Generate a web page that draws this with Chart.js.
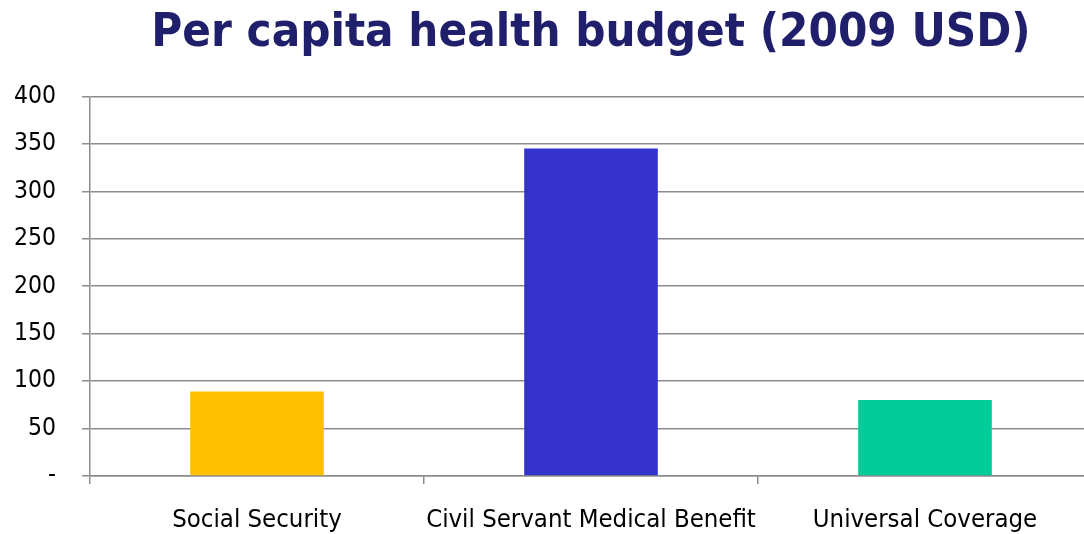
<!DOCTYPE html>
<html>
<head>
<meta charset="utf-8">
<script src="https://cdn.jsdelivr.net/npm/chart.js@4"></script>
<style>
  html, body { margin: 0; padding: 0; overflow: hidden; background: #fff; }
  #wrap { width: 1100px; height: 534px; }
</style>
</head>
<body>
<div id="wrap"><canvas id="budget-chart" width="1100" height="534"></canvas></div>
<script>
// values
const categories = ['Social Security', 'Civil Servant Medical Benefit', 'Universal Coverage'];
const budgetValues = [89, 345, 80];
const barColors = ['#FFC000', '#3333CC', '#00CC99'];
const yTicks = [0, 50, 100, 150, 200, 250, 300, 350, 400];

const gridColor = '#8c8c8c';

const ctx = document.querySelector('#budget-chart').getContext('2d');
const chart = new Chart(ctx, {
    type: 'bar',
    data: {
        labels: categories,
        datasets: [{
            label: 'Per capita health budget',
            data: budgetValues,
            backgroundColor: barColors,
            borderWidth: 0,
            barPercentage: 0.4,
            categoryPercentage: 1
        }]
    },
    options: {
        responsive: false,
        animation: false,
        layout: { padding: { left: 0, right: 8, top: 0, bottom: 0 } },
        plugins: {
            legend: { display: false },
            tooltip: { enabled: false },
            title: {
                display: true,
                fullSize: false,
                text: 'Per capita health budget (2009 USD)',
                color: '#1F1F6B',
                font: { family: 'DejaVu Sans Condensed', weight: 'bold', size: 47, lineHeight: 1.2 },
                padding: { top: 6, bottom: 34 }
            }
        },
        scales: {
            x: {
                grid: {
                    display: true,
                    drawOnChartArea: false,
                    drawTicks: true,
                    tickLength: 8,
                    color: gridColor,
                    lineWidth: 1.5
                },
                border: { display: true, color: gridColor, width: 1.5 },
                ticks: {
                    color: '#000',
                    padding: 21,
                    maxRotation: 0,
                    minRotation: 0,
                    autoSkip: false,
                    font: { family: 'DejaVu Sans Condensed', size: 25.5 }
                },
                afterFit(scale) { scale.height = 58; }
            },
            y: {
                min: 0,
                max: 400,
                afterBuildTicks(scale) {
                    scale.ticks = yTicks.map(v => ({ value: v }));
                },
                grid: {
                    color: gridColor,
                    lineWidth: 1.5,
                    drawTicks: true,
                    tickLength: 8
                },
                border: { display: true, color: gridColor, width: 1.5 },
                ticks: {
                    color: '#000',
                    padding: 26,
                    font: { family: 'DejaVu Sans Condensed', size: 24.5 },
                    callback: v => v === 0 ? '-' : v
                },
                afterFit(scale) { scale.width = 90; }
            }
        }
    }
});
</script>
</body>
</html>
